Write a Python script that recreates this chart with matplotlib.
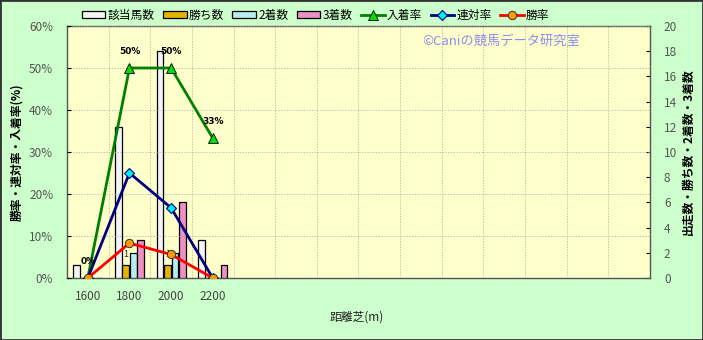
import matplotlib
matplotlib.use("Agg")
import matplotlib.pyplot as plt
import numpy as np
from matplotlib.patches import Rectangle

plt.rcParams['font.family'] = ['Noto Sans CJK JP', 'DejaVu Sans']

# ---- data ----
categories = ["1600", "1800", "2000", "2200"]
n_slots = 14
starters = [1, 12, 18, 3]      # 該当馬数
wins = [0, 1, 1, 0]            # 勝ち数
seconds = [0, 2, 2, 0]         # 2着数
thirds = [0, 3, 6, 1]          # 3着数
place_rate = [0, 50.0, 50.0, 33.3]   # 入着率
rentai_rate = [0, 25.0, 16.7, 0]     # 連対率
win_rate = [0, 8.3, 5.6, 0]          # 勝率
place_labels = ["0%", "50%", "50%", "33%"]

fig = plt.figure(figsize=(7.03, 3.40), dpi=100)
fig.patch.set_facecolor('#CCFFCC')
ax = fig.add_axes([67/703, 1-278/340, (650-67)/703, (278-26)/340])
ax.set_facecolor('#FFFFCC')

x = np.arange(len(categories))
w = 0.16
offs = [-0.27, -0.09, 0.09, 0.27]
bar_specs = [
    (starters, '#F4F4F4', '該当馬数'),
    (wins, '#E8B400', '勝ち数'),
    (seconds, '#B8ECF4', '2着数'),
    (thirds, '#EE90C4', '3着数'),
]
bar_handles = []
for (vals, col, lab), o in zip(bar_specs, offs):
    b = ax.bar(x + o, vals, width=w, color=col, edgecolor='black', linewidth=0.9,
               label=lab, zorder=3)
    bar_handles.append(b)
# labels over win bars
for xi, v in zip(x, wins):
    if v > 0:
        ax.text(xi + offs[1], v + 0.5, str(v), ha='center', va='bottom', fontsize=6.5,
                color='#222222', zorder=6)

ax.set_xlim(-0.5, n_slots - 0.5)
ax.set_ylim(0, 20)
ax.set_xticks(x)
ax.set_xticklabels(categories)
ax.set_xticks(np.arange(-0.5, n_slots, 1), minor=True)
ax.tick_params(axis='x', which='major', length=0, pad=9, labelsize=8.5, labelcolor='#444444')
ax.tick_params(axis='x', which='minor', length=0)
ax.grid(axis='x', which='minor', color='#AAAAAA', linestyle=(0, (2, 2)), linewidth=0.5)
for s in ax.spines.values():
    s.set_color('#555555')
    s.set_linewidth(1.0)
ax.set_xlabel('距離芝(m)', fontsize=8.5, color='#222222', labelpad=14)
ax.xaxis.set_label_coords(290/583, -0.13)

ax2 = ax.twinx()
# bars axis: right side
ax.yaxis.tick_right()
ax.yaxis.set_label_position('right')
ax.set_yticks(np.arange(0, 21, 2))
ax.tick_params(axis='y', direction='in', length=3, pad=10, labelsize=8.5, labelcolor='#555555')
ax.set_ylabel('出走数・勝ち数・2着数・3着数', fontsize=8.5, fontweight='bold', rotation=90)
ax.yaxis.set_label_coords(1.055, 0.5)

# rate axis: left side
ax2.set_ylim(0, 60)
ax2.yaxis.tick_left()
ax2.yaxis.set_label_position('left')
ax2.set_yticks(np.arange(0, 61, 10))
ax2.set_yticklabels([f"{v}%" for v in range(0, 61, 10)])
ax2.tick_params(axis='y', direction='in', length=3, pad=10, labelsize=8.5, labelcolor='#555555')
ax2.grid(axis='y', color='#AAAAAA', linestyle=(0, (2, 2)), linewidth=0.5)
ax2.set_axisbelow(True)
for s in ax2.spines.values():
    s.set_visible(False)
ax2.set_ylabel('勝率・連対率・入着率(%)', fontsize=8.5, fontweight='bold', rotation=90)
ax2.yaxis.set_label_coords(-0.075, 0.5)

l1, = ax2.plot(x, place_rate, color='#008000', linewidth=2, marker='^', markersize=7,
               markerfacecolor='#00DD00', markeredgecolor='black', markeredgewidth=0.6,
               label='入着率', zorder=5)
l2, = ax2.plot(x, rentai_rate, color='#000080', linewidth=2, marker='D', markersize=5,
               markerfacecolor='#00EEEE', markeredgecolor='#000080', markeredgewidth=0.8,
               label='連対率', zorder=5)
l3, = ax2.plot(x, win_rate, color='#FF0000', linewidth=2, marker='o', markersize=6,
               markerfacecolor='#FF9900', markeredgecolor='#333333', markeredgewidth=0.7,
               label='勝率', zorder=6)
for xi, v, t in zip(x, place_rate, place_labels):
    ax2.annotate(t, (xi, v), xytext=(0, 9), textcoords='offset points', ha='center',
                 va='bottom', fontsize=6.5, fontweight='bold', color='black',
                 family='DejaVu Sans', zorder=7)

ax2.text(0.745, 0.94, '©Caniの競馬データ研究室', transform=ax2.transAxes, ha='center',
         va='center', fontsize=9.5, color='#8C8CF0', zorder=7)

handles = bar_handles + [l1, l2, l3]
labels = ['該当馬数', '勝ち数', '2着数', '3着数', '入着率', '連対率', '勝率']
fig.legend(handles, labels, loc='center', bbox_to_anchor=(0.449, 0.955), ncol=7,
           frameon=False, fontsize=8.5, handlelength=2.0, handleheight=0.5,
           columnspacing=0.7, handletextpad=0.2)

fig.patches.append(Rectangle((0, 0), 1, 1, transform=fig.transFigure, fill=False,
                             edgecolor='#333333', linewidth=2))

fig.savefig('out.png', dpi=100, facecolor=fig.get_facecolor())
